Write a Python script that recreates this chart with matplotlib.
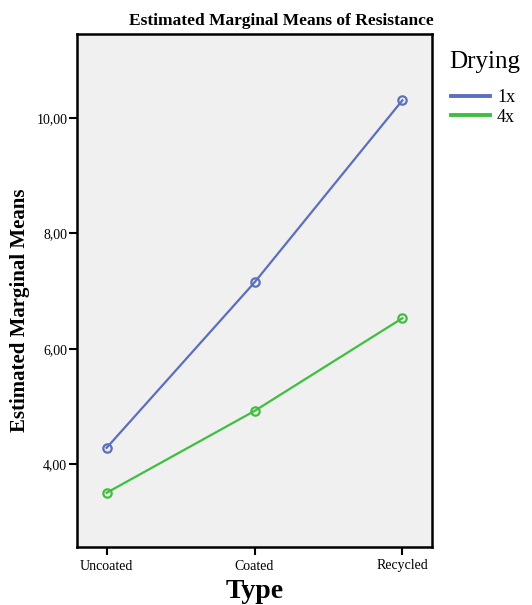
import matplotlib
matplotlib.use("Agg")
import matplotlib.pyplot as plt
from matplotlib.ticker import FuncFormatter

categories = ["Uncoated", "Coated", "Recycled"]
series_names = ["1x", "4x"]
values_1x = [4.28, 7.15, 10.31]
values_4x = [3.50, 4.92, 6.53]
yticks = [4, 6, 8, 10]

plt.rcParams['font.family'] = ['Liberation Serif', 'DejaVu Serif']

fig = plt.figure(figsize=(5.32, 6.05), dpi=100)
W, H = 532, 605
ax = fig.add_axes([77 / W, 1 - 547 / H, (432 - 77) / W, (547 - 34) / H])
ax.set_facecolor("#f0f0f0")

x = list(range(len(categories)))
colors = ["#5b6fc0", "#3fbf3f"]
for vals, name, c in zip([values_1x, values_4x], series_names, colors):
    ax.plot(x, vals, color=c, lw=1.6, marker="o", ms=6, mfc="none", mec=c, mew=1.6, label=name)

ax.set_xlim(-0.2, 2.2)
ax.set_ylim(2.56, 11.46)
ax.set_xticks(x)
ax.set_xticklabels(categories, fontsize=10)
ax.set_yticks(yticks)
ax.yaxis.set_major_formatter(FuncFormatter(lambda v, p: f"{v:.2f}".replace(".", ",")))
ax.tick_params(axis="y", labelsize=10, length=6, width=1.5, color="black", pad=1)
ax.tick_params(axis="x", length=6, width=1.5, pad=3)
for s in ax.spines.values():
    s.set_linewidth(1.8)

ax.set_xlabel("Type", fontsize=20, fontweight="bold")
ax.xaxis.set_label_coords(0.5, -0.062)
ax.set_ylabel("Estimated Marginal Means", fontsize=15, fontweight="bold")
ax.yaxis.set_label_coords(-0.132, 0.462)
fig.text(281 / W, 1 - 21 / H, "Estimated Marginal Means of Resistance", fontsize=12.5,
         fontweight="bold", ha="center", va="center")

fig.text(449 / W, 1 - 62 / H, "Drying", fontsize=18, ha="left", va="center")
leg = ax.legend(loc="upper left", bbox_to_anchor=(451 / W, 1 - 89 / H),
                bbox_transform=fig.transFigure, frameon=False,
                fontsize=13, handlelength=2.15, borderaxespad=0, borderpad=0,
                labelspacing=0.15, handletextpad=0.4)
for line in leg.get_lines():
    line.set_marker("")
    line.set_linewidth(2.8)

fig.savefig("out.png", dpi=100)
